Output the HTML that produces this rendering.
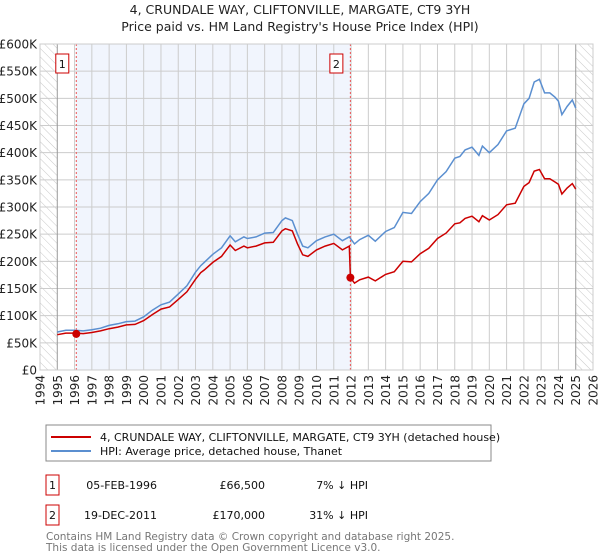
<!DOCTYPE html>
<html><head><meta charset="utf-8"><style>
body{margin:0;background:#fff;}
svg{display:block;font-family:"DejaVu Sans","Liberation Sans",sans-serif;}
</style></head><body>
<svg id="c" width="600" height="560" xmlns="http://www.w3.org/2000/svg">
<defs><pattern id="hatch" width="6" height="6" patternUnits="userSpaceOnUse" patternTransform="rotate(-45)"><line x1="0" y1="0" x2="0" y2="6" stroke="#bbb" stroke-width="0.8"/></pattern></defs>
<text x="300" y="14" text-anchor="middle" font-size="12.5" fill="#222">4, CRUNDALE WAY, CLIFTONVILLE, MARGATE, CT9 3YH</text>
<text x="300" y="31" text-anchor="middle" font-size="12.5" fill="#222">Price paid vs. HM Land Registry's House Price Index (HPI)</text>
<g id="plot"></g>
<g>
<rect x="46" y="425" width="445" height="36" fill="#fff" stroke="#888"/>
<line x1="51" y1="437" x2="91" y2="437" stroke="#cc0000" stroke-width="2"/>
<text x="100" y="441" font-size="11" fill="#111">4, CRUNDALE WAY, CLIFTONVILLE, MARGATE, CT9 3YH (detached house)</text>
<line x1="51" y1="451" x2="91" y2="451" stroke="#5b8fd0" stroke-width="2"/>
<text x="100" y="455" font-size="11" fill="#111">HPI: Average price, detached house, Thanet</text>
</g>
<g font-size="11" fill="#111">
<rect x="46" y="475" width="13" height="20" fill="none" stroke="#cc0000"/>
<text x="52.5" y="489" text-anchor="middle">1</text>
<text x="157" y="489" text-anchor="end">05-FEB-1996</text>
<text x="265" y="489" text-anchor="end">£66,500</text>
<text x="368" y="489" text-anchor="end">7% ↓ HPI</text>
<rect x="46" y="505" width="13" height="20" fill="none" stroke="#cc0000"/>
<text x="52.5" y="519" text-anchor="middle">2</text>
<text x="157" y="519" text-anchor="end">19-DEC-2011</text>
<text x="265" y="519" text-anchor="end">£170,000</text>
<text x="368" y="519" text-anchor="end">31% ↓ HPI</text>
</g>
<text x="46" y="540" font-size="10.5" fill="#777">Contains HM Land Registry data © Crown copyright and database right 2025.</text>
<text x="46" y="551" font-size="10.5" fill="#777">This data is licensed under the Open Government Licence v3.0.</text>
</svg>
<script>
const hpiYears=[1995,1995.5,1996,1996.5,1997,1997.5,1998,1998.5,1999,1999.5,2000,2000.5,2001,2001.5,2002,2002.5,2003,2003.3,2003.5,2004,2004.5,2005,2005.3,2005.8,2006,2006.5,2007,2007.5,2008,2008.2,2008.6,2008.9,2009.2,2009.5,2010,2010.5,2011,2011.5,2011.9,2012.2,2012.5,2013,2013.4,2014,2014.5,2015,2015.5,2016,2016.5,2017,2017.5,2018,2018.3,2018.6,2019,2019.4,2019.6,2020,2020.5,2021,2021.5,2022,2022.3,2022.6,2022.9,2023.2,2023.5,2023.8,2024,2024.2,2024.5,2024.8,2025];
const hpiValues=[70,73,73,72,74,77,82,85,89,90,98,110,120,125,140,155,180,192,198,213,225,247,236,245,242,245,252,253,275,280,275,250,228,225,238,245,250,238,245,232,240,248,237,255,262,290,288,310,325,350,365,390,393,405,410,395,412,400,415,440,445,490,500,530,535,510,510,502,495,470,485,497,482];
const propYears=[1995,1995.5,1996,1996.5,1997,1997.5,1998,1998.5,1999,1999.5,2000,2000.5,2001,2001.5,2002,2002.5,2003,2003.3,2003.5,2004,2004.5,2005,2005.3,2005.8,2006,2006.5,2007,2007.5,2008,2008.2,2008.6,2008.9,2009.2,2009.5,2010,2010.5,2011,2011.5,2011.9,2011.96,2012.2,2012.5,2013,2013.4,2014,2014.5,2015,2015.5,2016,2016.5,2017,2017.5,2018,2018.3,2018.6,2019,2019.4,2019.6,2020,2020.5,2021,2021.5,2022,2022.3,2022.6,2022.9,2023.2,2023.5,2023.8,2024,2024.2,2024.5,2024.8,2025];
const propValues=[65,68,68,67,69,72,76,79,83,84,91,102,112,116,130,144,167,179,184,198,209,230,220,228,225,228,234,235,256,260,256,232,212,209,221,228,233,221,228,170,160,166,171,164,176,181,200,199,214,224,242,252,269,271,279,283,273,284,276,286,304,307,338,345,366,369,352,352,346,342,324,335,343,333];
const saleYears=[1996.1,2011.96];
const saleValues=[66.5,170];
const saleLabels=["1","2"];
const yTicks=[0,50,100,150,200,250,300,350,400,450,500,550,600];
const yTickLabels=["£0","£50K","£100K","£150K","£200K","£250K","£300K","£350K","£400K","£450K","£500K","£550K","£600K"];
const xTicks=[1994,1995,1996,1997,1998,1999,2000,2001,2002,2003,2004,2005,2006,2007,2008,2009,2010,2011,2012,2013,2014,2015,2016,2017,2018,2019,2020,2021,2022,2023,2024,2025,2026];

const X0=40,X1=593,Y0=370,Y1=44;
const xs=y=>X0+(y-1994)/(2026-1994)*(X1-X0);
const ys=v=>Y0-v/600*(Y0-Y1);
const NS="http://www.w3.org/2000/svg";
const g=document.getElementById('plot');
function mk(t,a){const e=document.createElementNS(NS,t);for(const k in a)e.setAttribute(k,a[k]);g.appendChild(e);return e;}

let e;
e=mk('rect',{x:X0,y:Y1,width:X1-X0,height:Y0-Y1,fill:'#fff'});


e=mk('rect',{x:xs(saleYears[0]),y:Y1,width:xs(saleYears[1])-xs(saleYears[0]),height:Y0-Y1,fill:'#eef3fc',opacity:0.8});


e=mk('rect',{x:X0,y:Y1,width:xs(1995)-X0,height:Y0-Y1,fill:'url(#hatch)'});


e=mk('rect',{x:xs(2025),y:Y1,width:X1-xs(2025),height:Y0-Y1,fill:'url(#hatch)'});



yTicks.forEach((t,i)=>{
 const l=mk('line',{x1:X0,x2:X1,y1:ys(t),y2:ys(t),stroke:'#ccc','stroke-width':1});
 
 
 const tx=mk('text',{x:X0-3,y:ys(t)+4.5,'text-anchor':'end','font-size':12,fill:'#222'});
 tx.textContent=yTickLabels[i];
 
 
});
xTicks.forEach(t=>{
 const l=mk('line',{x1:xs(t),x2:xs(t),y1:Y1,y2:Y0,stroke:(t===1995||t===2025)?'#999':'#ccc','stroke-width':1});
 
 
 const tx=mk('text',{x:0,y:0,'text-anchor':'end','font-size':12,fill:'#222',transform:`translate(${xs(t)+4.5},${Y0+5}) rotate(-90)`});
 tx.textContent=t;
 
 
});

saleYears.forEach((s,i)=>{
 const l=mk('line',{x1:xs(s),x2:xs(s),y1:Y1,y2:Y0,stroke:'#e55','stroke-width':1,'stroke-dasharray':'2,2'});
 
 
 const bx=xs(s)-14;
 const r=mk('rect',{x:bx-6.5,y:54,width:13,height:19,fill:'#fff',stroke:'#cc0000'});
 
 
 const tx=mk('text',{x:bx,y:68,'text-anchor':'middle','font-size':11,fill:'#111'});
 tx.textContent=saleLabels[i];
 
 
});

const hp=hpiYears.map((y,i)=>xs(y).toFixed(1)+','+ys(hpiValues[i]).toFixed(1)).join(' ');
e=mk('polyline',{points:hp,fill:'none',stroke:'#5b8fd0','stroke-width':1.5});


const pp=propYears.map((y,i)=>xs(y).toFixed(1)+','+ys(propValues[i]).toFixed(1)).join(' ');
e=mk('polyline',{points:pp,fill:'none',stroke:'#cc0000','stroke-width':1.5});


saleYears.forEach((s,i)=>{
 const c=mk('circle',{cx:xs(s),cy:ys(saleValues[i]),r:4,fill:'#cc0000'});
 
 
});
e=mk('rect',{x:X0,y:Y1,width:X1-X0,height:Y0-Y1,fill:'none',stroke:'#ccc'});


</script>
</body></html>
